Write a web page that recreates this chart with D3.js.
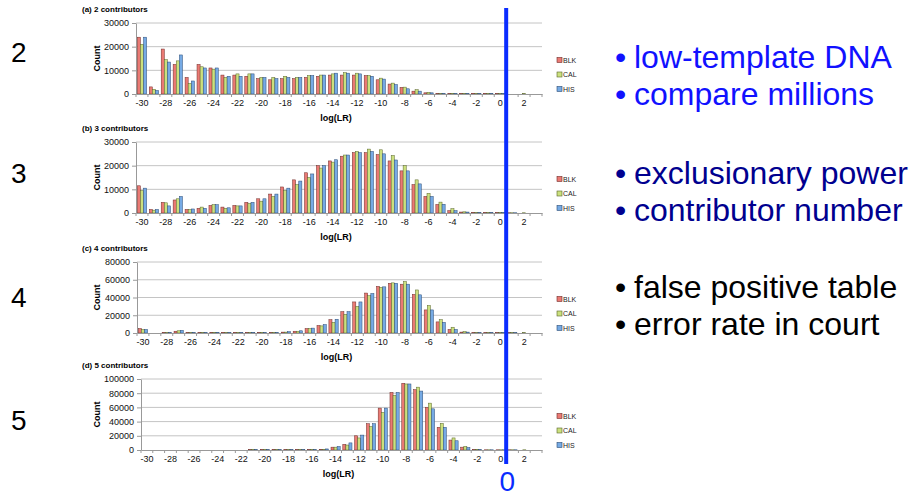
<!DOCTYPE html>
<html>
<head>
<meta charset="utf-8">
<script src="https://cdn.jsdelivr.net/npm/d3@7"></script>
<style>
  body { margin: 0; background: #fff; }
  svg { display: block; font-family: "Liberation Sans", Arial, Helvetica, sans-serif; }
</style>
</head>
<body>
<div id="chart"></div>
<script>
// categories: log(LR) from -30 to 3
const CATS = d3.range(-30, 4);
const LABEL_CATS = d3.range(-30, 3, 2);
const SERIES = ["BLK", "CAL", "HIS"];

// (a) 2 contributors
const blk2 = [24000,3000,19000,12500,7000,12500,11000,8000,8000,7500,6500,6000,6500,6500,7000,7500,8000,8000,8000,7800,6000,4200,2800,1200,500,200,200,200,200,200,200,0,0,0];
const cal2 = [21000,2000,14500,14000,4500,11500,10500,7000,8500,8500,7000,7000,7500,7000,7800,8000,8500,9000,8800,7800,6700,4600,2900,1800,700,200,200,200,200,200,200,0,150,0];
const his2 = [24000,1500,13500,16500,5500,11000,11000,7500,7500,8500,7000,6500,7000,7000,7800,8000,8800,8800,8500,7500,6300,4000,2200,1200,500,200,200,200,200,200,200,0,0,0];

// (b) 3 contributors
const blk3 = [11500,1500,4500,5500,1500,2000,3200,2500,3200,4500,6000,8000,11000,14000,17000,20000,22000,24000,25500,25500,24700,22000,17800,12000,7000,3600,1000,400,200,150,150,100,0,0];
const cal3 = [9500,1200,4300,6000,1500,2500,3500,2000,3000,4000,5000,7000,9500,12000,15000,19000,21500,24500,26000,27000,26700,24300,20000,14000,8300,4600,1800,500,200,150,150,100,100,0];
const his3 = [10500,1500,3000,7000,1700,2000,3500,2200,3000,4500,6000,8000,10500,13500,16500,20000,22500,24500,25500,26000,25000,22400,17800,12300,7000,3700,1000,400,200,150,150,100,0,0];

// (c) 4 contributors
const blk4 = [5000,0,500,2000,500,500,700,500,500,500,500,500,1000,2000,5000,8500,15000,24000,35000,45000,52500,56000,55000,43500,26000,12500,4000,1000,300,300,300,300,0,0];
const cal4 = [4000,0,500,2500,500,500,700,500,500,500,500,500,1000,2000,5000,8000,12000,21000,30000,42000,51500,56500,58000,48500,31000,15000,6500,1500,300,300,300,300,300,0];
const his4 = [4000,0,500,3000,500,500,700,500,500,500,500,500,1500,2500,5500,9500,15500,24000,35000,44500,52000,56000,55000,43000,26000,12000,4000,1000,300,300,300,300,0,0];

// (d) 5 contributors
const blk5 = [0,0,0,0,0,0,0,0,0,500,500,500,500,500,500,1000,4000,8000,20000,37000,59000,81000,94000,85000,60000,32000,14000,4000,500,300,300,300,0,0];
const cal5 = [0,0,0,0,0,0,0,0,0,500,500,500,500,500,500,1000,4000,7000,17000,33000,53000,77000,93000,88500,66000,37500,17000,5000,1000,300,300,300,300,0];
const his5 = [0,0,0,0,0,0,0,0,0,500,500,500,500,500,500,1500,5000,10000,21000,37000,59000,81000,93000,83000,58000,32000,13000,3500,500,300,300,300,0,0];

const PANELS = [
  {title: "(a) 2 contributors", yTicks: [0, 10000, 20000, 30000], series: [blk2, cal2, his2]},
  {title: "(b) 3 contributors", yTicks: [0, 10000, 20000, 30000], series: [blk3, cal3, his3]},
  {title: "(c) 4 contributors", yTicks: [0, 20000, 40000, 60000, 80000], series: [blk4, cal4, his4]},
  {title: "(d) 5 contributors", yTicks: [0, 20000, 40000, 60000, 80000, 100000], series: [blk5, cal5, his5]}
];

const ROW_LABELS = ["2", "3", "4", "5"];
const BULLETS = [
  {text: "low-template DNA", color: "#1111ff"},
  {text: "compare millions", color: "#1111ff"},
  {text: "exclusionary power", color: "#00008f"},
  {text: "contributor number", color: "#00008f"},
  {text: "false positive table", color: "#000000"},
  {text: "error rate in court", color: "#000000"}
];

const WIDTH = 913, HEIGHT = 497;
// layout of each small chart (plot area)
const PLOT_TOPS = [23, 142, 262, 379];
const PLOT_LEFTS = [136, 136, 137, 141];
const PLOT_RIGHT = 542;
const PLOT_H = 71;
const ROW_BASELINES = [62, 183, 307, 430];
const BULLET_BASELINES = [68, 105, 184, 221, 298, 335];

const FILLS = ["#ea7a74", "#cbe07e", "#76aae4"];
const STROKES = ["#6e2a27", "#59652a", "#2a4a74"];

const svg = d3.select("#chart").append("svg")
  .attr("width", WIDTH)
  .attr("height", HEIGHT);

let firstX = null;

PANELS.forEach((p, i) => {
  const top = PLOT_TOPS[i], left = PLOT_LEFTS[i], bottom = top + PLOT_H;

  const x = d3.scaleBand().domain(CATS).range([left, PLOT_RIGHT]).paddingInner(0.22).paddingOuter(0.11);
  const xs = d3.scaleBand().domain(SERIES).range([0, x.bandwidth()]);
  const y = d3.scaleLinear().domain([0, d3.max(p.yTicks)]).range([bottom, top]);
  if (i === 0) firstX = x;

  const g = svg.append("g");

  // gridlines
  g.selectAll(".grid").data(p.yTicks.slice(1)).enter().append("line")
    .attr("x1", left).attr("x2", PLOT_RIGHT)
    .attr("y1", d => y(d)).attr("y2", d => y(d))
    .attr("stroke", "#c4c4c4").attr("stroke-width", 1);

  // bars
  SERIES.forEach((s, k) => {
    g.selectAll(".bar" + k).data(p.series[k]).enter().append("rect")
      .attr("x", (d, j) => x(CATS[j]) + xs(s))
      .attr("y", d => y(d))
      .attr("width", xs.bandwidth())
      .attr("height", d => bottom - y(d))
      .attr("fill", FILLS[k])
      .attr("stroke", STROKES[k])
      .attr("stroke-width", 0.5);
  });

  // y axis
  const yAxis = g.append("g")
    .attr("transform", "translate(" + left + ",0)")
    .call(d3.axisLeft(y).tickValues(p.yTicks).tickSize(4).tickSizeOuter(0).tickFormat(d3.format("d")));
  yAxis.select(".domain").attr("stroke", "#999");
  yAxis.selectAll(".tick line").attr("stroke", "#999");
  yAxis.selectAll("text").attr("font-size", "9px").attr("fill", "#111").attr("x", -7);

  // x axis: labels every other category, ticks at category boundaries
  const xAxis = g.append("g")
    .attr("transform", "translate(0," + bottom + ")")
    .call(d3.axisBottom(x).tickValues(LABEL_CATS).tickSize(0).tickSizeOuter(0));
  xAxis.select(".domain").attr("stroke", "#999");
  xAxis.selectAll("text").attr("font-size", "9px").attr("fill", "#111").attr("dy", "1.05em");
  g.selectAll(".xtick").data(CATS.concat([null])).enter().append("line")
    .attr("x1", (d, j) => j < CATS.length ? x(d) - x.step() * x.paddingInner() / 2 : PLOT_RIGHT)
    .attr("x2", (d, j) => j < CATS.length ? x(d) - x.step() * x.paddingInner() / 2 : PLOT_RIGHT)
    .attr("y1", bottom).attr("y2", bottom + 3)
    .attr("stroke", "#999");

  // titles
  g.append("text").attr("x", 82).attr("y", top - 11)
    .attr("font-size", "8px").attr("font-weight", "bold").text(p.title);
  g.append("text")
    .attr("transform", "translate(100," + (top + PLOT_H / 2) + ") rotate(-90)")
    .attr("text-anchor", "middle").attr("font-size", "9px").attr("font-weight", "bold")
    .text("Count");
  g.append("text").attr("x", (left + PLOT_RIGHT) / 2 - 3).attr("y", bottom + 27)
    .attr("text-anchor", "middle").attr("font-size", "9px").attr("font-weight", "bold")
    .text("log(LR)");

  // legend
  const leg = g.selectAll(".leg").data(SERIES).enter().append("g")
    .attr("transform", (d, k) => "translate(557," + (top + PLOT_H / 2 + 1.5 + k * 14.5) + ")");
  leg.append("rect").attr("x", 0).attr("y", -2.5).attr("width", 5).attr("height", 5)
    .attr("fill", (d, k) => FILLS[k]).attr("stroke", (d, k) => STROKES[k]).attr("stroke-width", 0.6);
  leg.append("text").attr("x", 6).attr("y", 2.6).attr("font-size", "7px").attr("fill", "#222").text(d => d);
});

// row numbers on the left
svg.selectAll(".rowlab").data(ROW_LABELS).enter().append("text")
  .attr("x", 11).attr("y", (d, i) => ROW_BASELINES[i])
  .attr("font-size", "28px").attr("fill", "#000").text(d => d);

// bullets on the right
const bl = svg.selectAll(".bullet").data(BULLETS).enter().append("g")
  .attr("transform", (d, i) => "translate(0," + BULLET_BASELINES[i] + ")");
bl.append("text").attr("x", 615).attr("font-size", "32px").attr("fill", d => d.color).text("\u2022");
bl.append("text").attr("x", 634).attr("font-size", "32px").attr("fill", d => d.color).text(d => d.text);

// blue line at log(LR) = 0 boundary
const lineX = firstX(1) - firstX.step() * firstX.paddingInner() / 2;
svg.append("line")
  .attr("x1", lineX).attr("x2", lineX)
  .attr("y1", 8).attr("y2", 464)
  .attr("stroke", "#0a2cff").attr("stroke-width", 4);
svg.append("text").attr("x", lineX + 1).attr("y", 491)
  .attr("text-anchor", "middle").attr("font-size", "28px").attr("fill", "#0a2cff").text("0");
</script>
</body>
</html>
